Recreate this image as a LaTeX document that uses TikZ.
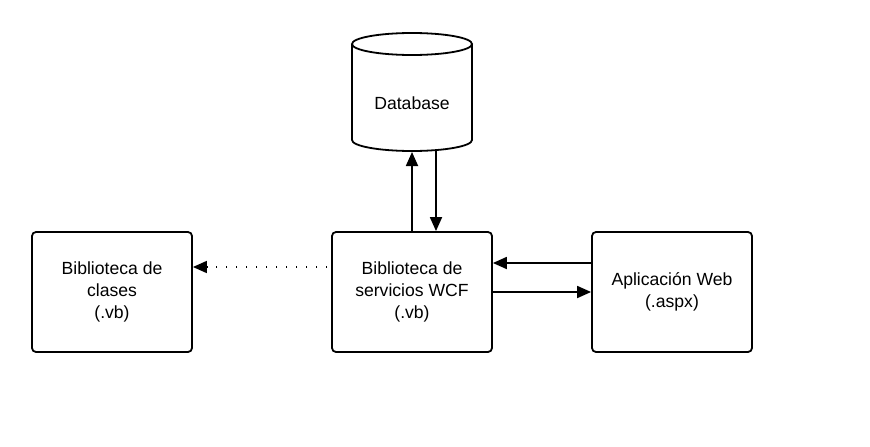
\documentclass[tikz,border=0pt]{standalone}
\usepackage{fontspec}
\setmainfont{Liberation Sans}
\usetikzlibrary{arrows.meta}
\begin{document}
\begin{tikzpicture}[x=1pt,y=-1pt,
  box/.style={draw,line width=1.8pt,rounded corners=4pt,minimum width=160pt,minimum height=120pt,align=center,font=\fontsize{17.6pt}{22pt}\selectfont,inner sep=0pt},
  conn/.style={line width=1.8pt,-{Triangle[length=14pt,width=12pt]}},
  dots/.style={line width=1.6pt,dash pattern=on 1.6pt off 8.4pt,-{Triangle[length=14pt,width=12pt]}}]
\useasboundingbox (0,0) rectangle (870,447);
\node[box] (cls) at (112,292) {Biblioteca de\\clases\\(.vb)};
\node[box] (wcf) at (412,292) {Biblioteca de\\servicios WCF\\(.vb)};
\node[box] (web) at (672,292) {Aplicación Web\\(.aspx)};
% database cylinder
\draw[line width=1.8pt,fill=white] (352,44) -- (352,140) arc[start angle=180,end angle=0,x radius=60,y radius=11] -- (472,44);
\draw[line width=1.8pt] (412,44) ellipse[x radius=60,y radius=11];
\node[font=\fontsize{17.6pt}{22pt}\selectfont] (db) at (412,103) {Database};
\coordinate (dbup) at (412,152);
\coordinate (dbdn) at (436,151);
\draw[conn] (wcf.north -| dbup) -- (dbup);
\draw[conn] (dbdn) -- (wcf.north -| dbdn);
\draw[conn] (web.west |- 0,263) -- (wcf.east |- 0,263);
\draw[conn] (wcf.east |- 0,292) -- (web.west |- 0,292);
\draw[dots] (wcf.west |- 0,267) ++(-4,0) -- (cls.east |- 0,267);
\end{tikzpicture}
\end{document}
